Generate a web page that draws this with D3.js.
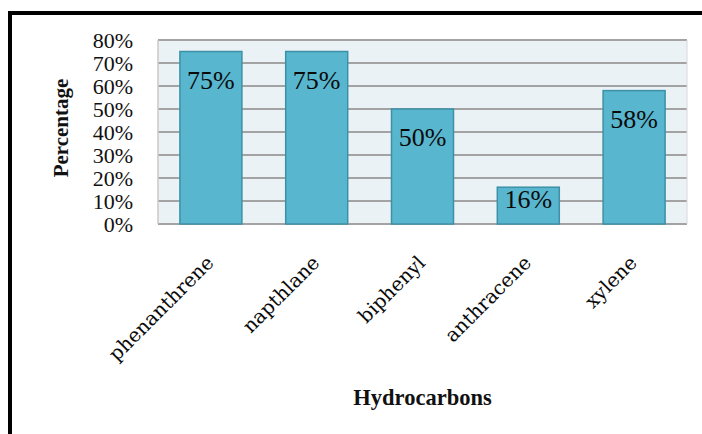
<!DOCTYPE html>
<html>
<head>
<meta charset="utf-8">
<script src="https://cdn.jsdelivr.net/npm/d3@7/dist/d3.min.js"></script>
<style>
  html, body { margin: 0; padding: 0; background: #ffffff; }
  svg { display: block; }
</style>
</head>
<body>
<div id="chart"></div>
<script>
// Removal percentage per hydrocarbon
const categories = ["phenanthrene", "napthlane", "biphenyl", "anthracene", "xylene"];
const values = [75, 75, 50, 16, 58];
const tickValues = [0, 10, 20, 30, 40, 50, 60, 70, 80];

const width = 702, height = 434;
const margin = { top: 40, right: 15, bottom: 210, left: 158 };
const plotW = width - margin.left - margin.right;
const plotH = height - margin.top - margin.bottom;

const svg = d3.select("#chart").append("svg")
  .attr("width", width)
  .attr("height", height);

// outer frame (top and left edges)
svg.append("path")
  .attr("d", `M10,${height} L10,13 L${width},13`)
  .attr("fill", "none")
  .attr("stroke", "#000")
  .attr("stroke-width", 4);

const g = svg.append("g").attr("transform", `translate(${margin.left},${margin.top})`);

const x = d3.scaleBand()
  .domain(categories)
  .range([0, plotW])
  .paddingInner(0.414)
  .paddingOuter(0.207);

const y = d3.scaleLinear()
  .domain([0, 80])
  .range([plotH, 0]);

// plot background
g.append("rect")
  .attr("x", 0).attr("y", 0)
  .attr("width", plotW).attr("height", plotH)
  .attr("fill", "#ebf2f6");

// gridlines
g.append("g")
  .selectAll("line")
  .data(tickValues)
  .join("line")
  .attr("x1", 0).attr("x2", plotW)
  .attr("y1", d => y(d)).attr("y2", d => y(d))
  .attr("stroke", "#a3a3a3")
  .attr("stroke-width", 2);

// left and right plot edges
g.append("line").attr("x1", 0).attr("x2", 0).attr("y1", 0).attr("y2", plotH)
  .attr("stroke", "#c8c8c8").attr("stroke-width", 1.5);
g.append("line").attr("x1", plotW).attr("x2", plotW).attr("y1", 0).attr("y2", plotH)
  .attr("stroke", "#d8d8d8").attr("stroke-width", 1);

// y axis labels
const yAxis = d3.axisLeft(y)
  .tickValues(tickValues)
  .tickFormat(d => d + "%")
  .tickSize(0)
  .tickPadding(25);
const yg = g.append("g").call(yAxis);
yg.select(".domain").remove();
yg.selectAll("text")
  .attr("font-family", "'Liberation Serif', 'Times New Roman', serif")
  .attr("font-size", 22)
  .attr("fill", "#111");

// bars
g.append("g")
  .selectAll("rect")
  .data(values)
  .join("rect")
  .attr("x", (d, i) => x(categories[i]))
  .attr("y", d => y(d))
  .attr("width", x.bandwidth())
  .attr("height", d => plotH - y(d))
  .attr("fill", "#58b6cf")
  .attr("stroke", "#3d91a7")
  .attr("stroke-width", 1.5);

// value labels inside bars, kept within short bars
g.append("g")
  .selectAll("text")
  .data(values)
  .join("text")
  .attr("x", (d, i) => x(categories[i]) + x.bandwidth() / 2)
  .attr("y", d => y(d) + Math.min(37, plotH - y(d) - 16))
  .attr("text-anchor", "middle")
  .attr("font-family", "'Liberation Serif', 'Times New Roman', serif")
  .attr("font-size", 26)
  .attr("fill", "#0a0a0a")
  .text(d => d + "%");

// category labels, rotated
g.append("g")
  .selectAll("text")
  .data(categories)
  .join("text")
  .attr("transform", d => `translate(${x(d) + x.bandwidth() / 2 + 4},${plotH + 40}) rotate(-45)`)
  .attr("text-anchor", "end")
  .attr("font-family", "'DejaVu Serif', serif")
  .attr("font-size", 19.5)
  .attr("fill", "#0a0a0a")
  .text(d => d);

// axis titles
svg.append("text")
  .attr("transform", `translate(68,${margin.top + 88}) rotate(-90)`)
  .attr("text-anchor", "middle")
  .attr("font-family", "'Liberation Serif', 'Times New Roman', serif")
  .attr("font-weight", "bold")
  .attr("font-size", 21)
  .attr("fill", "#111")
  .text("Percentage");

svg.append("text")
  .attr("x", margin.left + plotW / 2)
  .attr("y", 405)
  .attr("text-anchor", "middle")
  .attr("font-family", "'Liberation Serif', 'Times New Roman', serif")
  .attr("font-weight", "bold")
  .attr("font-size", 22.5)
  .attr("fill", "#111")
  .text("Hydrocarbons");
</script>
</body>
</html>
